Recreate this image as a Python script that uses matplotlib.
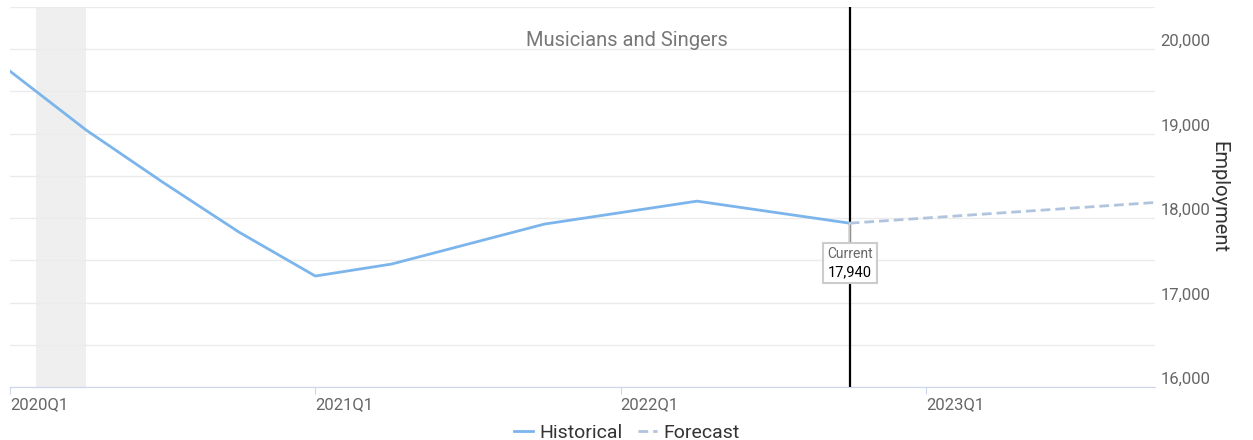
import matplotlib
matplotlib.use("Agg")
from matplotlib import pyplot as plt
from matplotlib.offsetbox import TextArea, VPacker, AnnotationBbox

# quarter index: 0 = 2020Q1
hist_q = [0, 1, 2, 3, 4, 5, 7, 9, 11]
hist_val = [19740, 19041, 18426, 17834, 17314, 17456, 17929, 18201, 17940]
fc_q = [11, 15]
fc_val = [17940, 18185]
tick_q = [0, 4, 8, 12]
tick_lbl = ["2020Q1", "2021Q1", "2022Q1", "2023Q1"]
recession = (0.34, 1.0)
current_q = 11
current_val = 17940

plt.rcParams['font.family'] = ['Roboto', 'DejaVu Sans']

fig = plt.figure(figsize=(12.53, 4.4), dpi=100)
ax = fig.add_axes([10/1253, 1-387/440, 1145/1253, 380/440])

ax.axvspan(recession[0], recession[1], color='#efefef', lw=0, zorder=0)
ax.plot(hist_q, hist_val, color='#7cb5ec', lw=2, label='Historical', zorder=3)
ax.plot(fc_q, fc_val, color='#b0c4de', lw=2, ls=(0, (3.5, 1.8)), label='Forecast', zorder=3)
ax.axvline(current_q, color='black', lw=1.6, zorder=2)

ax.set_xlim(0, 15)
ax.set_ylim(16000, 20500)
ax.set_yticks(range(16000, 20001, 1000))
ax.set_yticks(range(16500, 20501, 1000), minor=True)
ax.set_yticklabels(['{:,}'.format(v) for v in range(16000, 20001, 1000)])
ax.yaxis.tick_right()
ax.grid(True, which='both', axis='y', color='#ebebeb', lw=1)
ax.set_axisbelow(True)
ax.tick_params(axis='y', which='both', length=0, pad=4, labelsize=12, labelcolor='#666666')
for lab in ax.get_yticklabels():
    lab.set_va('bottom')

ax.set_xticks(tick_q)
ax.set_xticklabels(tick_lbl)
ax.tick_params(axis='x', length=5, color='#ccd6eb', pad=2, labelsize=12, labelcolor='#666666')
for lab in ax.get_xticklabels():
    lab.set_ha('left')

for s in ['top', 'left', 'right']:
    ax.spines[s].set_visible(False)
ax.spines['bottom'].set_color('#ccd6eb')

ax.yaxis.set_label_position('right')
ax.set_ylabel('Employment', rotation=270, fontsize=14.5, color='#333333', labelpad=13)

fig.text(0.5, 1-40/440, 'Musicians and Singers', ha='center', va='center',
         fontsize=14.5, color='#777777')

# current value callout
t1 = TextArea('Current', textprops=dict(color='#666666', fontsize=10))
t2 = TextArea('{:,}'.format(current_val), textprops=dict(color='black', fontsize=10.5))
pack = VPacker(children=[t1, t2], align='center', pad=0, sep=3)
ab = AnnotationBbox(pack, (current_q, current_val), xybox=(0, -40),
                    boxcoords='offset pixels', frameon=True, pad=0.25,
                    bboxprops=dict(boxstyle='square', fc='white', ec='#cccccc', lw=1.5),
                    arrowprops=dict(arrowstyle='-', color='#cccccc', lw=1.5,
                                    shrinkA=0, shrinkB=0),
                    zorder=5)
ax.add_artist(ab)

fig.legend(loc='lower center', bbox_to_anchor=(0.5, -0.045), ncol=2, frameon=False,
           fontsize=14, handlelength=1.0, handletextpad=0.3, columnspacing=0.8,
           labelcolor='#333333')

fig.savefig('out.png', dpi=100)
